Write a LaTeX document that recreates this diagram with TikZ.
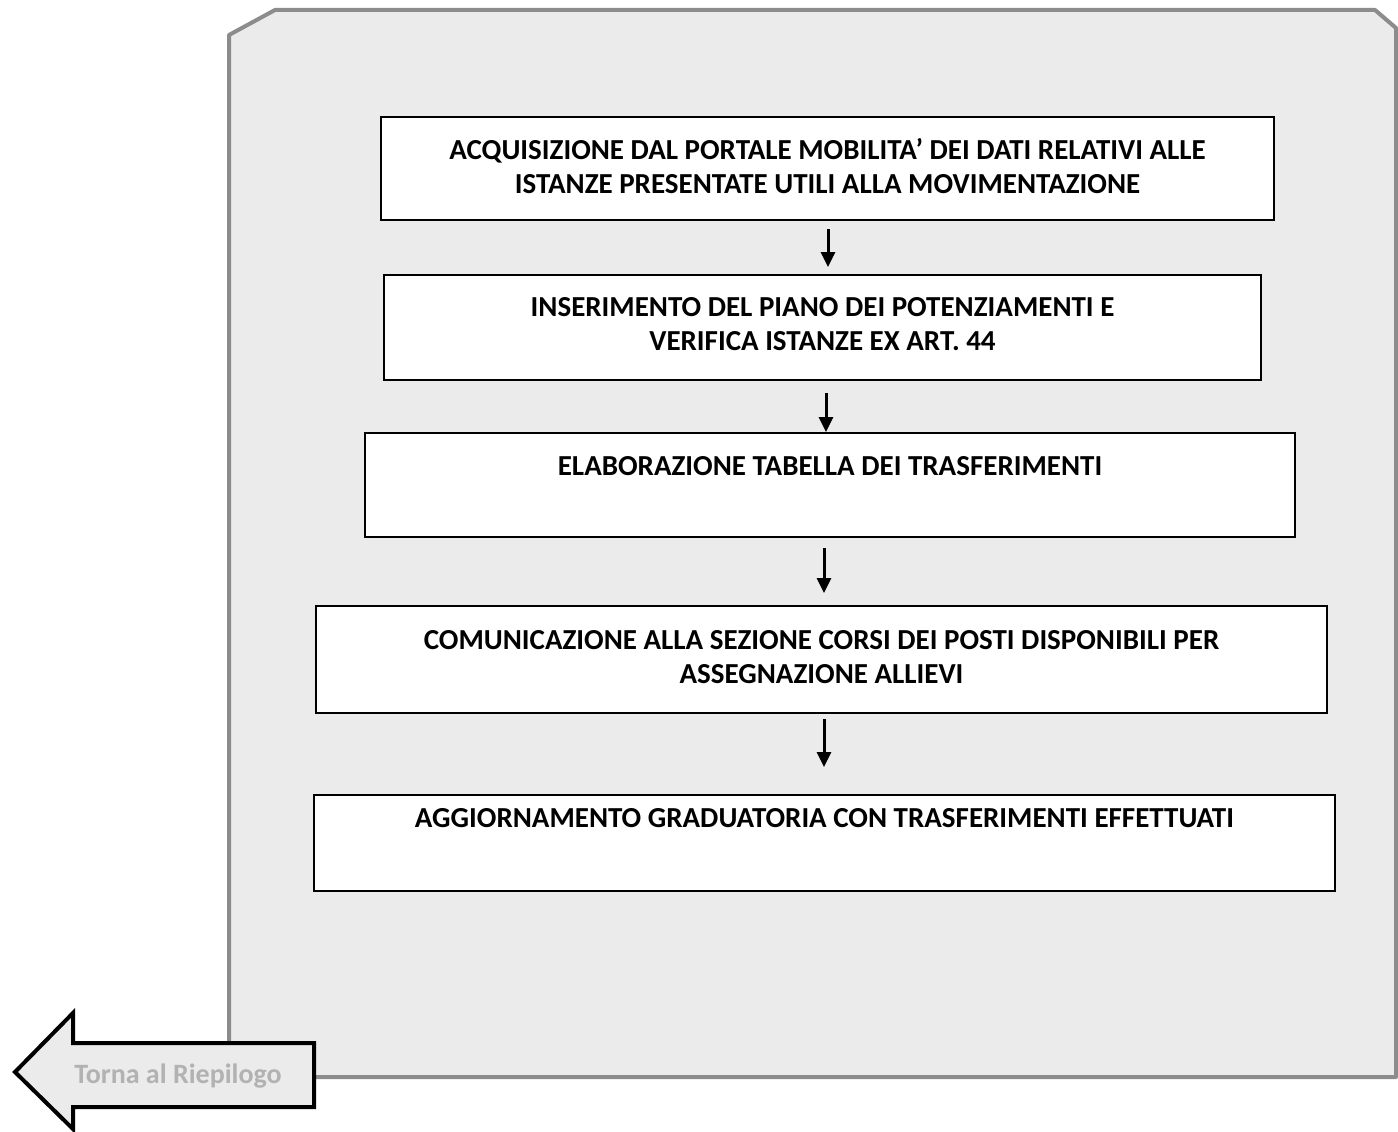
\documentclass[tikz,border=0pt]{standalone}
\usepackage{fontspec}
\setmainfont{Carlito}
\usetikzlibrary{arrows.meta}
\begin{document}
\begin{tikzpicture}[x=1pt,y=-1pt,
  panel/.style={fill=black!8,draw=black!45,line width=4pt,line join=round},
  stepbox/.style={draw=black,line width=2pt,fill=white,inner sep=0pt},
  steptext/.style={font=\fontsize{29}{34}\selectfont\bfseries,align=center,anchor=north,inner sep=0pt},
  flow/.style={line width=3pt,-{Triangle[length=15pt,width=14pt]}},
  backarrow/.style={draw=black,line width=4pt,fill=black!8,line join=miter}]
\useasboundingbox (0,0) rectangle (1398,1132);
\fill[white] (0,0) rectangle (1398,1132);
\draw[panel] (229,1077) -- (229,35) -- (275,10) -- (1375,10) -- (1396,28) -- (1396,1077) -- cycle;

\node[stepbox,minimum width=893pt,minimum height=103pt] (b1) at (827.5,168.5) {};
\node[stepbox,minimum width=877pt,minimum height=105pt] (b2) at (822.5,327.5) {};
\node[stepbox,minimum width=930pt,minimum height=104pt] (b3) at (830,485) {};
\node[stepbox,minimum width=1011pt,minimum height=107pt] (b4) at (821.5,659.5) {};
\node[stepbox,minimum width=1021pt,minimum height=96pt] (b5) at (824.5,843) {};

\node[steptext] (t1) at ([yshift=-22.5pt]b1.north) {ACQUISIZIONE DAL PORTALE MOBILITA’ DEI DATI RELATIVI ALLE\\ISTANZE PRESENTATE UTILI ALLA MOVIMENTAZIONE};
\node[steptext] (t2) at ([yshift=-23.5pt]b2.north) {INSERIMENTO DEL PIANO DEI POTENZIAMENTI E\\VERIFICA ISTANZE EX ART. 44};
\node[steptext] (t3) at ([yshift=-24pt]b3.north) {ELABORAZIONE TABELLA DEI TRASFERIMENTI};
\node[steptext] (t4) at ([yshift=-25.5pt]b4.north) {COMUNICAZIONE ALLA SEZIONE CORSI DEI POSTI DISPONIBILI PER\\ASSEGNAZIONE ALLIEVI};
\node[steptext] (t5) at ([yshift=-14pt]b5.north) {AGGIORNAMENTO GRADUATORIA CON TRASFERIMENTI EFFETTUATI};

\coordinate (x1) at (828,0);
\coordinate (x2) at (826,0);
\coordinate (x3) at (824,0);
\coordinate (x4) at (824,0);
\draw[flow,shorten <=8pt,shorten >=7pt] (b1.south -| x1) -- (b2.north -| x1);
\draw[flow,shorten <=12pt,shorten >=0pt] (b2.south -| x2) -- (b3.north -| x2);
\draw[flow,shorten <=10pt,shorten >=12pt] (b3.south -| x3) -- (b4.north -| x3);
\draw[flow,shorten <=5pt,shorten >=27pt] (b4.south -| x4) -- (b5.north -| x4);

\draw[backarrow] (15,1072) -- (73,1013) -- (73,1043) -- (314,1043) -- (314,1107) -- (73,1107) -- (73,1129) -- cycle;
\node[font=\fontsize{28}{32}\selectfont\bfseries,text=black!30,inner sep=0pt] (back) at (178,1076) {Torna al Riepilogo};
\end{tikzpicture}
\end{document}
